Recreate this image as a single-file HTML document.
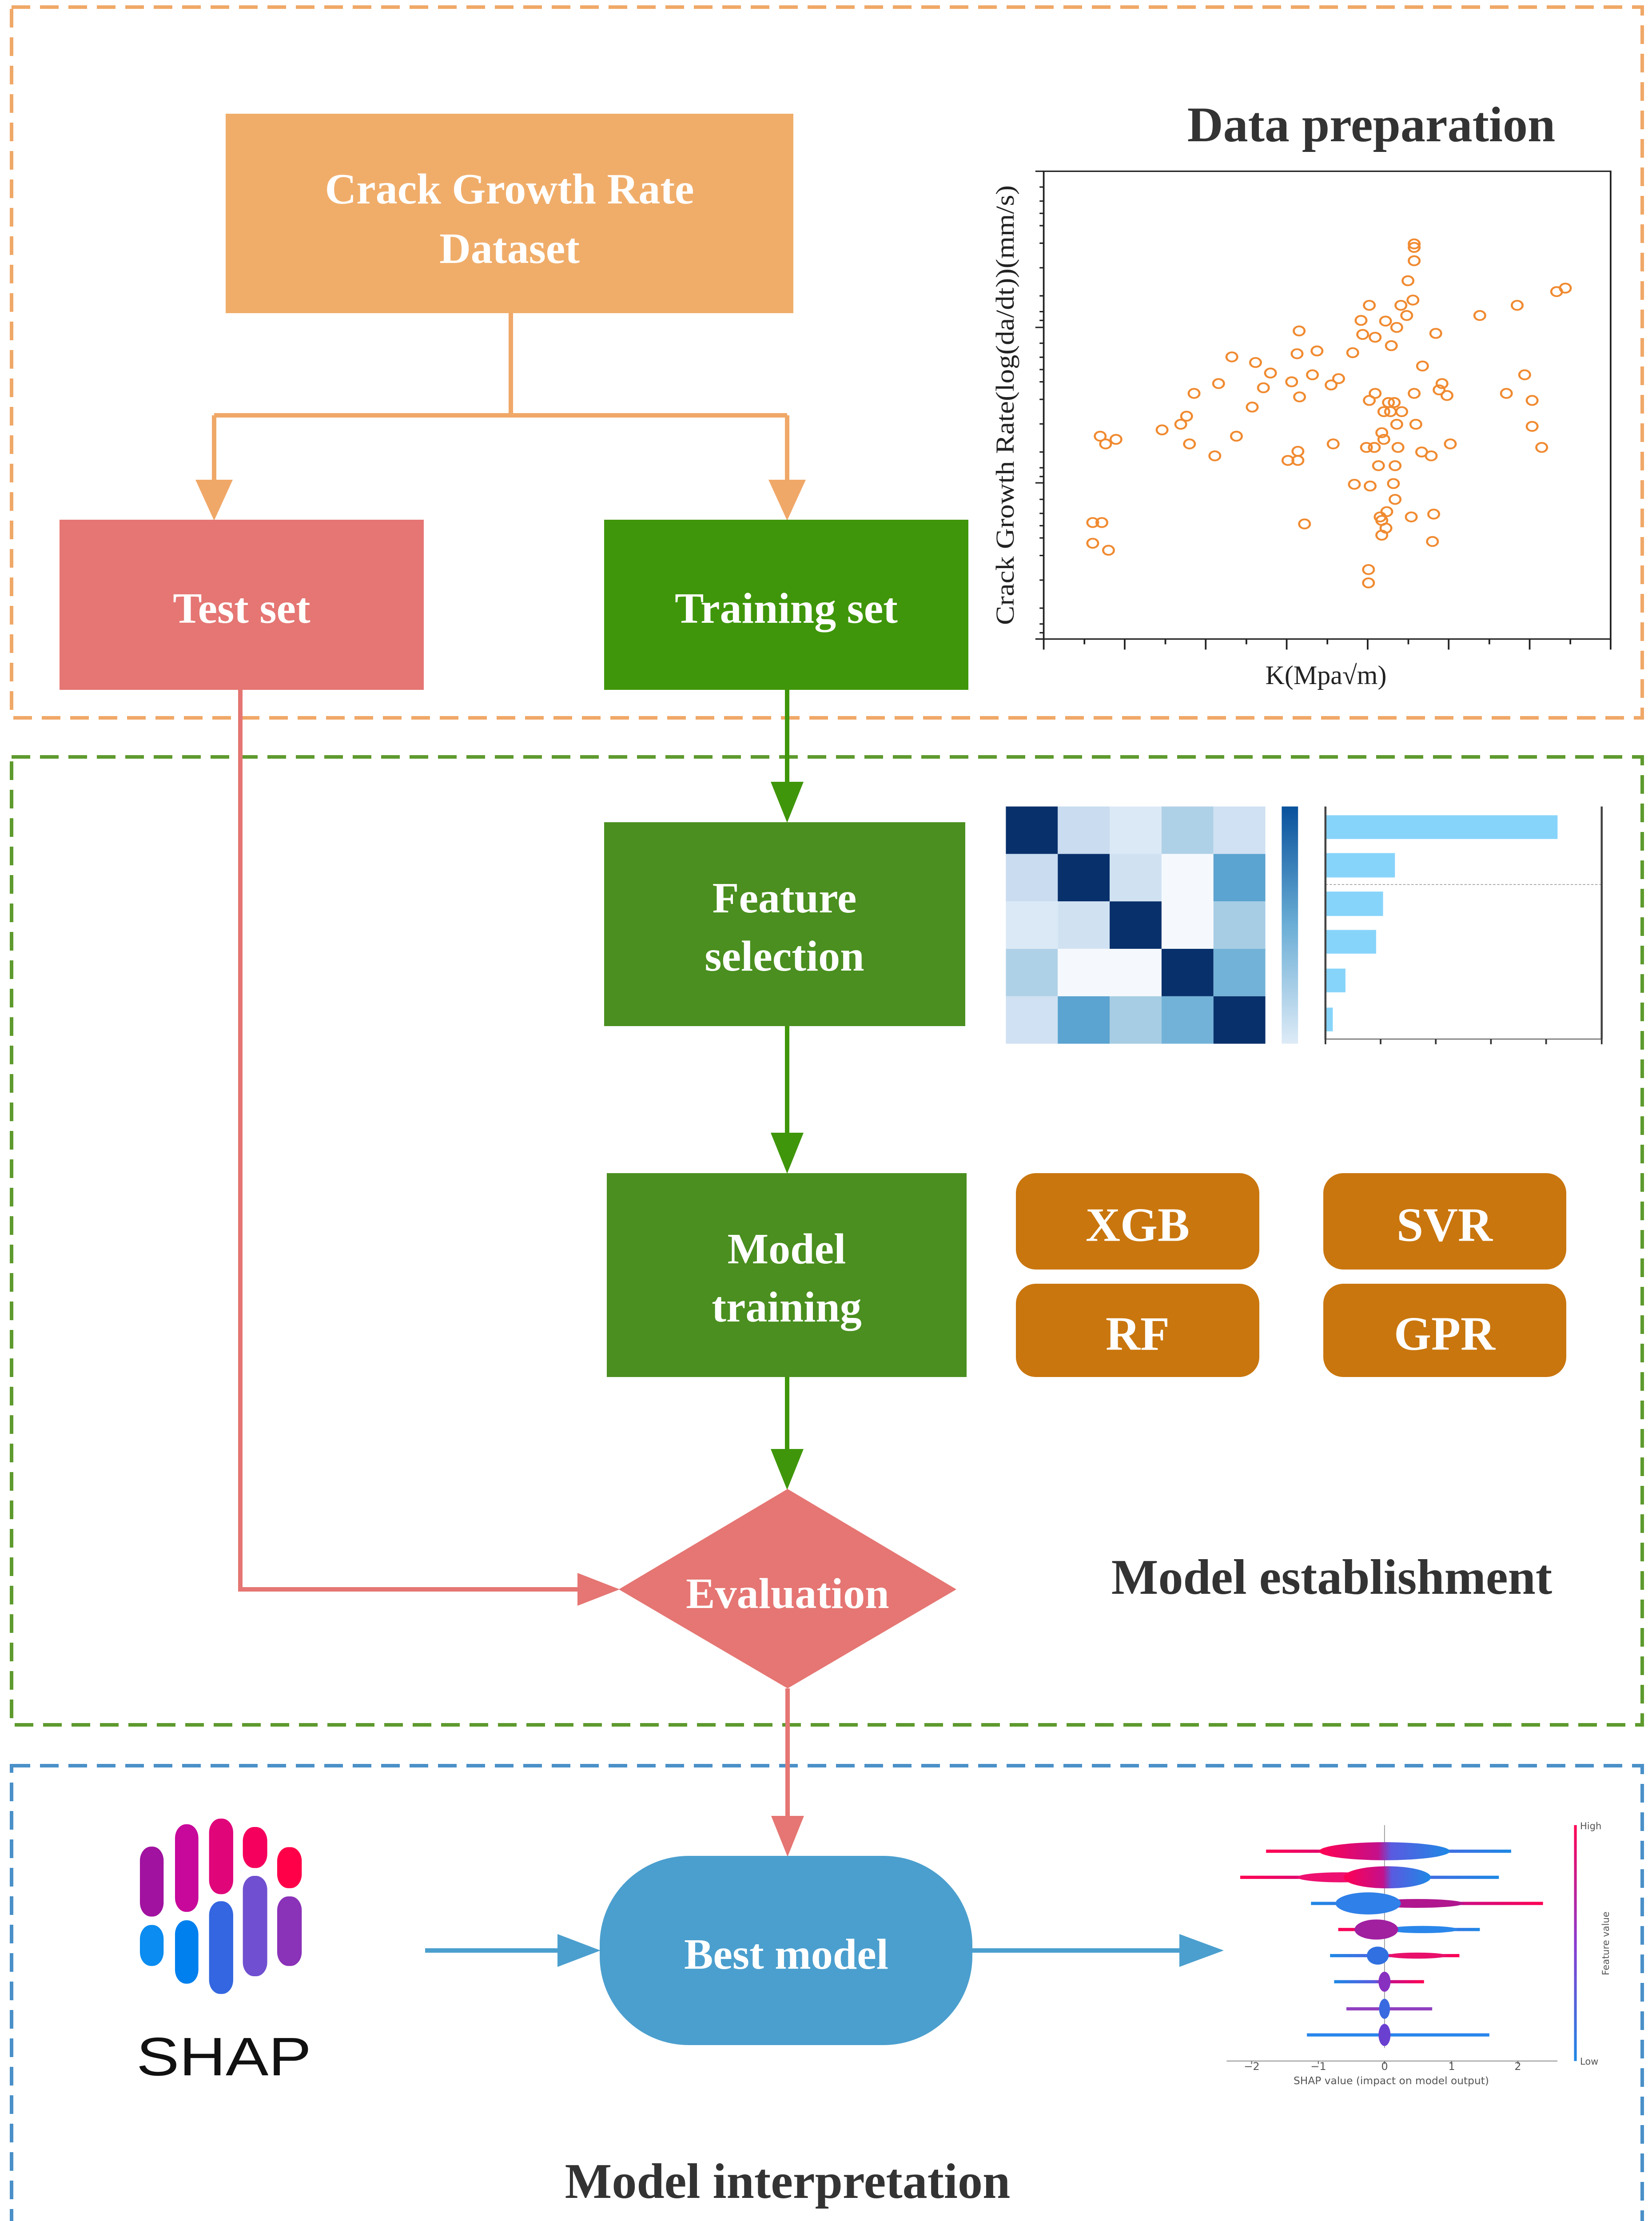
<!DOCTYPE html>
<html><head><meta charset="utf-8"><style>html,body{margin:0;padding:0;background:#fff;overflow:hidden;width:3719px;height:5139px;position:relative}svg{display:block;position:absolute;left:0;top:0}</style></head>
<body>
<svg xmlns="http://www.w3.org/2000/svg" width="3719" height="5139" viewBox="0 0 3719 5139" font-family="'Liberation Serif',serif">
<defs>
<linearGradient id="cb" x1="0" y1="0" x2="0" y2="1"><stop offset="0" stop-color="#08519c"/><stop offset="0.5" stop-color="#6baed6"/><stop offset="1" stop-color="#deebf7"/></linearGradient>
<linearGradient id="rb" x1="0" y1="0" x2="1" y2="0"><stop offset="0" stop-color="#ff0052"/><stop offset="0.45" stop-color="#c4108a"/><stop offset="0.55" stop-color="#5a5ae0"/><stop offset="1" stop-color="#1e88e5"/></linearGradient>
<linearGradient id="br" x1="0" y1="0" x2="1" y2="0"><stop offset="0" stop-color="#1e88e5"/><stop offset="0.45" stop-color="#5a5ae0"/><stop offset="0.6" stop-color="#c4108a"/><stop offset="1" stop-color="#ff0052"/></linearGradient>
<linearGradient id="fv" x1="0" y1="0" x2="0" y2="1"><stop offset="0" stop-color="#ff0052"/><stop offset="0.5" stop-color="#8a3ad0"/><stop offset="1" stop-color="#1e88e5"/></linearGradient>
</defs>

<rect x="26" y="16" width="3671" height="1600" fill="none" stroke="#F0A868" stroke-width="8" stroke-dasharray="42 22"/>
<rect x="26" y="1704" width="3671" height="2179" fill="none" stroke="#5E9A2E" stroke-width="8" stroke-dasharray="42 22"/>
<rect x="26" y="3975" width="3671" height="1137" fill="none" stroke="#4A90C8" stroke-width="8" stroke-dasharray="42 22"/>

<g font-weight="bold" fill="#333" font-size="112" text-anchor="middle">
<text x="3087" y="318">Data preparation</text>
<text x="2998" y="3588">Model establishment</text>
<text x="1773" y="4948">Model interpretation</text>
</g>

<g fill="none" stroke="#F0A868" stroke-width="10">
<path d="M1150 705 V935 M482 935 H1772 M482 935 V1090 M1772 935 V1090"/>
</g>
<path d="M440 1080 L524 1080 L482 1172 Z" fill="#F0A868"/>
<path d="M1730 1080 L1814 1080 L1772 1172 Z" fill="#F0A868"/>

<g stroke="#3F960A" stroke-width="10" fill="none"><path d="M1772 1553 V1770 M1772 2310 V2560 M1772 3100 V3275"/></g>
<path d="M1735 1760 L1809 1760 L1772 1852 Z" fill="#3F960A"/>
<path d="M1735 2550 L1809 2550 L1772 2642 Z" fill="#3F960A"/>
<path d="M1735 3262 L1809 3262 L1772 3354 Z" fill="#3F960A"/>

<g stroke="#E57673" stroke-width="10" fill="none"><path d="M541 1553 V3578 H1310 M1773 3801 V4100"/></g>
<path d="M1300 3541 L1395 3578 L1300 3615 Z" fill="#E57673"/>
<path d="M1736 4088 L1810 4088 L1773 4180 Z" fill="#E57673"/>

<g stroke="#4B9FCE" stroke-width="10" fill="none"><path d="M957 4391 H1260 M2189 4391 H2660"/></g>
<path d="M1255 4354 L1352 4391 L1255 4428 Z" fill="#4B9FCE"/>
<path d="M2655 4354 L2755 4391 L2655 4428 Z" fill="#4B9FCE"/>

<rect x="508" y="256" width="1278" height="449" fill="#F0AD6A"/>
<rect x="134" y="1170" width="820" height="383" fill="#E57673"/>
<rect x="1360" y="1170" width="820" height="383" fill="#3F960A"/>
<rect x="1360" y="1851" width="813" height="459" fill="#4A8F1F"/>
<rect x="1366" y="2641" width="810" height="459" fill="#4A8F1F"/>
<rect x="2287" y="2641" width="548" height="217" rx="45" fill="#C9760E"/>
<rect x="2979" y="2641" width="547" height="217" rx="45" fill="#C9760E"/>
<rect x="2287" y="2890" width="548" height="210" rx="45" fill="#C9760E"/>
<rect x="2979" y="2890" width="547" height="210" rx="45" fill="#C9760E"/>
<path d="M1773 3352 L2153 3578 L1773 3801 L1393 3578 Z" fill="#E57673"/>
<rect x="1350" y="4178" width="839" height="426" rx="200" fill="#4B9FCE"/>

<g fill="#fff" font-weight="bold" font-size="98" text-anchor="middle" dominant-baseline="central">
<text x="1147" y="426">Crack Growth Rate</text>
<text x="1147" y="560">Dataset</text>
<text x="544" y="1370">Test set</text>
<text x="1770" y="1370">Training set</text>
<text x="1766" y="2022">Feature</text>
<text x="1766" y="2153">selection</text>
<text x="1771" y="2812">Model</text>
<text x="1771" y="2943">training</text>
<text x="1773" y="3588">Evaluation</text>
<text x="1770" y="4400">Best model</text>
<g font-size="108"><text x="2561" y="2758">XGB</text><text x="3252" y="2758">SVR</text><text x="2561" y="3003">RF</text><text x="3252" y="3003">GPR</text></g>
</g>

<g transform="translate(2200,350) scale(0.935,0.79)">
<rect x="160" y="45" width="1365" height="1333" fill="none" stroke="#222" stroke-width="4"/>
<g stroke="#222" stroke-width="4">
<path d="M160 45h-20M160 490h-20M160 933h-20M160 1378h-20"/>
<path d="M160 90h-10M160 130h-10M160 165h-10M160 200h-10M160 250h-10M160 320h-10M160 400h-10M160 445h-10M160 470h-10M160 535h-10M160 575h-10M160 610h-10M160 645h-10M160 695h-10M160 765h-10M160 845h-10M160 890h-10M160 915h-10M160 980h-10M160 1020h-10M160 1055h-10M160 1090h-10M160 1140h-10M160 1210h-10M160 1290h-10M160 1335h-10M160 1360h-10"/>
<path d="M160 1378v30M355 1378v30M550 1378v30M745 1378v30M940 1378v30M1135 1378v30M1330 1378v30M1525 1378v30"/>
<path d="M258 1378v15M453 1378v15M648 1378v15M843 1378v15M1038 1378v15M1233 1378v15M1428 1378v15"/>
</g>
<g fill="none" stroke="#F08A30" stroke-width="5">
<circle cx="1052" cy="252" r="13"/><circle cx="1052" cy="262" r="13"/><circle cx="1052" cy="300" r="13"/><circle cx="1037" cy="357" r="13"/><circle cx="1049" cy="412" r="13"/><circle cx="1020" cy="427" r="13"/><circle cx="1034" cy="456" r="13"/><circle cx="944" cy="427" r="13"/><circle cx="924" cy="470" r="13"/><circle cx="983" cy="472" r="13"/><circle cx="1010" cy="490" r="13"/><circle cx="928" cy="510" r="13"/><circle cx="958" cy="518" r="13"/><circle cx="997" cy="542" r="13"/><circle cx="1104" cy="507" r="13"/><circle cx="1210" cy="456" r="13"/><circle cx="1300" cy="427" r="13"/><circle cx="1395" cy="388" r="13"/><circle cx="1416" cy="378" r="13"/><circle cx="775" cy="500" r="13"/><circle cx="770" cy="565" r="13"/><circle cx="818" cy="557" r="13"/><circle cx="904" cy="562" r="13"/><circle cx="613" cy="574" r="13"/><circle cx="670" cy="590" r="13"/><circle cx="706" cy="620" r="13"/><circle cx="807" cy="625" r="13"/><circle cx="757" cy="645" r="13"/><circle cx="852" cy="654" r="13"/><circle cx="870" cy="636" r="13"/><circle cx="581" cy="650" r="13"/><circle cx="522" cy="678" r="13"/><circle cx="689" cy="662" r="13"/><circle cx="776" cy="688" r="13"/><circle cx="662" cy="717" r="13"/><circle cx="944" cy="698" r="13"/><circle cx="958" cy="678" r="13"/><circle cx="990" cy="704" r="13"/><circle cx="1004" cy="704" r="13"/><circle cx="979" cy="730" r="13"/><circle cx="995" cy="730" r="13"/><circle cx="1022" cy="730" r="13"/><circle cx="1010" cy="766" r="13"/><circle cx="1052" cy="678" r="13"/><circle cx="1072" cy="600" r="13"/><circle cx="1119" cy="650" r="13"/><circle cx="1112" cy="668" r="13"/><circle cx="1131" cy="684" r="13"/><circle cx="1274" cy="678" r="13"/><circle cx="1318" cy="625" r="13"/><circle cx="1336" cy="698" r="13"/><circle cx="1336" cy="772" r="13"/><circle cx="1359" cy="832" r="13"/><circle cx="1056" cy="766" r="13"/><circle cx="504" cy="743" r="13"/><circle cx="490" cy="766" r="13"/><circle cx="445" cy="782" r="13"/><circle cx="296" cy="800" r="13"/><circle cx="309" cy="822" r="13"/><circle cx="334" cy="809" r="13"/><circle cx="511" cy="822" r="13"/><circle cx="624" cy="800" r="13"/><circle cx="572" cy="856" r="13"/><circle cx="748" cy="869" r="13"/><circle cx="772" cy="843" r="13"/><circle cx="772" cy="869" r="13"/><circle cx="857" cy="822" r="13"/><circle cx="937" cy="832" r="13"/><circle cx="956" cy="832" r="13"/><circle cx="974" cy="790" r="13"/><circle cx="979" cy="809" r="13"/><circle cx="1013" cy="832" r="13"/><circle cx="966" cy="884" r="13"/><circle cx="1006" cy="884" r="13"/><circle cx="1070" cy="845" r="13"/><circle cx="1093" cy="856" r="13"/><circle cx="1139" cy="822" r="13"/><circle cx="908" cy="937" r="13"/><circle cx="946" cy="942" r="13"/><circle cx="1002" cy="935" r="13"/><circle cx="1006" cy="980" r="13"/><circle cx="986" cy="1015" r="13"/><circle cx="970" cy="1030" r="13"/><circle cx="974" cy="1040" r="13"/><circle cx="984" cy="1062" r="13"/><circle cx="974" cy="1082" r="13"/><circle cx="1045" cy="1030" r="13"/><circle cx="1099" cy="1022" r="13"/><circle cx="1096" cy="1100" r="13"/><circle cx="788" cy="1050" r="13"/><circle cx="278" cy="1046" r="13"/><circle cx="300" cy="1046" r="13"/><circle cx="278" cy="1105" r="13"/><circle cx="316" cy="1125" r="13"/><circle cx="942" cy="1180" r="13"/><circle cx="942" cy="1218" r="13"/>
</g>
</g>
<text x="2985" y="1540" font-size="60" text-anchor="middle" fill="#222">K(Mpa√m)</text>
<text transform="translate(2282,912) rotate(-90)" font-size="58" text-anchor="middle" textLength="990" lengthAdjust="spacingAndGlyphs" fill="#222">Crack Growth Rate(log(da/dt))(mm/s)</text>

<g transform="translate(2200,1780) scale(0.92,0.387)">
<rect x="70" y="92" width="127" height="276" fill="#08306b"/><rect x="197" y="92" width="127" height="276" fill="#c9dcf0"/><rect x="324" y="92" width="127" height="276" fill="#dbe9f6"/><rect x="451" y="92" width="127" height="276" fill="#afd1e7"/><rect x="578" y="92" width="127" height="276" fill="#cfe1f2"/>
<rect x="70" y="368" width="127" height="276" fill="#c9dcf0"/><rect x="197" y="368" width="127" height="276" fill="#08306b"/><rect x="324" y="368" width="127" height="276" fill="#d0e2f2"/><rect x="451" y="368" width="127" height="276" fill="#f5f9fe"/><rect x="578" y="368" width="127" height="276" fill="#5ba3d0"/>
<rect x="70" y="644" width="127" height="276" fill="#dbe9f6"/><rect x="197" y="644" width="127" height="276" fill="#d0e2f2"/><rect x="324" y="644" width="127" height="276" fill="#08306b"/><rect x="451" y="644" width="127" height="276" fill="#f5f9fe"/><rect x="578" y="644" width="127" height="276" fill="#a6cde4"/>
<rect x="70" y="920" width="127" height="276" fill="#afd1e7"/><rect x="197" y="920" width="127" height="276" fill="#f5f9fe"/><rect x="324" y="920" width="127" height="276" fill="#f5f9fe"/><rect x="451" y="920" width="127" height="276" fill="#08306b"/><rect x="578" y="920" width="127" height="276" fill="#73b2d8"/>
<rect x="70" y="1196" width="127" height="276" fill="#cfe1f2"/><rect x="197" y="1196" width="127" height="276" fill="#5ba3d0"/><rect x="324" y="1196" width="127" height="276" fill="#a6cde4"/><rect x="451" y="1196" width="127" height="276" fill="#73b2d8"/><rect x="578" y="1196" width="127" height="276" fill="#08306b"/>
<rect x="745" y="92" width="40" height="1380" fill="url(#cb)"/>
<g fill="#87d4fb">
<rect x="852" y="143" width="568" height="138"/><rect x="852" y="363" width="170" height="142"/><rect x="852" y="587" width="141" height="142"/><rect x="852" y="810" width="124" height="138"/><rect x="852" y="1035" width="49" height="138"/><rect x="852" y="1262" width="18" height="138"/>
</g>
<path d="M852 546 H1528" stroke="#999" stroke-width="4" stroke-dasharray="6 4"/>
<path d="M852 92 V1445 H1528 M1528 92 V1445" stroke="#444" stroke-width="5" fill="none"/>
<path d="M987 1445v30M1122 1445v30M1257 1445v30M1392 1445v30M852 1445v30M1528 1445v30" stroke="#333" stroke-width="4"/>
</g>

<g transform="translate(250,4050) scale(0.3333,0.42)">
<rect x="195" y="255" width="160" height="375" rx="75" fill="#a0129f"/>
<rect x="195" y="675" width="160" height="220" rx="75" fill="#0a8cf0"/>
<rect x="432" y="135" width="158" height="470" rx="75" fill="#c8089a"/>
<rect x="432" y="650" width="158" height="340" rx="75" fill="#0080ee"/>
<rect x="662" y="105" width="163" height="405" rx="75" fill="#e0067a"/>
<rect x="662" y="548" width="163" height="497" rx="75" fill="#3366e0"/>
<rect x="890" y="150" width="165" height="220" rx="75" fill="#f5005c"/>
<rect x="890" y="412" width="165" height="538" rx="75" fill="#7050d0"/>
<rect x="1122" y="258" width="166" height="220" rx="75" fill="#ff0048"/>
<rect x="1122" y="522" width="166" height="373" rx="75" fill="#8a32b8"/>
</g>
<text x="307" y="4672" font-family="'Liberation Sans',sans-serif" font-size="122" textLength="394" lengthAdjust="spacingAndGlyphs" fill="#111">SHAP</text>

<g transform="translate(2700,4050) scale(0.613,0.452)">
<path d="M680 130 V1240" stroke="#999" stroke-width="3"/>
<rect x="245" y="252" width="900" height="16" fill="url(#rb)"/><ellipse cx="680" cy="260" rx="240" ry="45" fill="url(#rb)"/>
<rect x="150" y="382" width="950" height="16" fill="url(#rb)"/><ellipse cx="520" cy="390" rx="160" ry="25" fill="#ee1070"/><ellipse cx="690" cy="390" rx="160" ry="55" fill="url(#rb)"/>
<rect x="410" y="512" width="852" height="16" fill="url(#br)"/><ellipse cx="800" cy="520" rx="170" ry="22" fill="#b0168e"/><ellipse cx="620" cy="520" rx="120" ry="55" fill="#2f80e8"/>
<rect x="510" y="642" width="520" height="16" fill="url(#rb)"/><ellipse cx="820" cy="650" rx="130" ry="18" fill="#2a86ea"/><ellipse cx="650" cy="650" rx="80" ry="50" fill="#a020a0"/>
<rect x="480" y="772" width="475" height="16" fill="url(#br)"/><ellipse cx="800" cy="780" rx="110" ry="15" fill="#e8106a"/><ellipse cx="655" cy="780" rx="40" ry="45" fill="#3070e0"/>
<rect x="495" y="902" width="330" height="16" fill="url(#br)"/><ellipse cx="680" cy="910" rx="22" ry="50" fill="#8830c0"/>
<rect x="540" y="1037" width="315" height="16" fill="#9040c0"/><ellipse cx="680" cy="1045" rx="20" ry="50" fill="#3a6ae0"/>
<rect x="395" y="1167" width="670" height="16" fill="#2a86ea"/><ellipse cx="680" cy="1175" rx="22" ry="55" fill="#6a40d0"/>
<path d="M100 1305 H1315" stroke="#aaa" stroke-width="6"/>
<path d="M192 1305v15M437 1305v15M680 1305v15M926 1305v15M1170 1305v15" stroke="#777" stroke-width="4"/>
<rect x="1376" y="130" width="10" height="1175" fill="url(#fv)"/>
</g>
<g font-family="'DejaVu Sans',sans-serif" fill="#555">
<g font-size="24" text-anchor="middle">
<text x="2818" y="4660">−2</text><text x="2968" y="4660">−1</text><text x="3117" y="4660">0</text><text x="3268" y="4660">1</text><text x="3417" y="4660">2</text>
</g>
<text x="3132" y="4692" font-size="23" text-anchor="middle" textLength="440" lengthAdjust="spacingAndGlyphs">SHAP value (impact on model output)</text>
<g font-size="21"><text x="3557" y="4118">High</text><text x="3557" y="4648">Low</text>
<text transform="translate(3622,4375) rotate(-90)" text-anchor="middle">Feature value</text></g>
</g>
</svg>
</body></html>
